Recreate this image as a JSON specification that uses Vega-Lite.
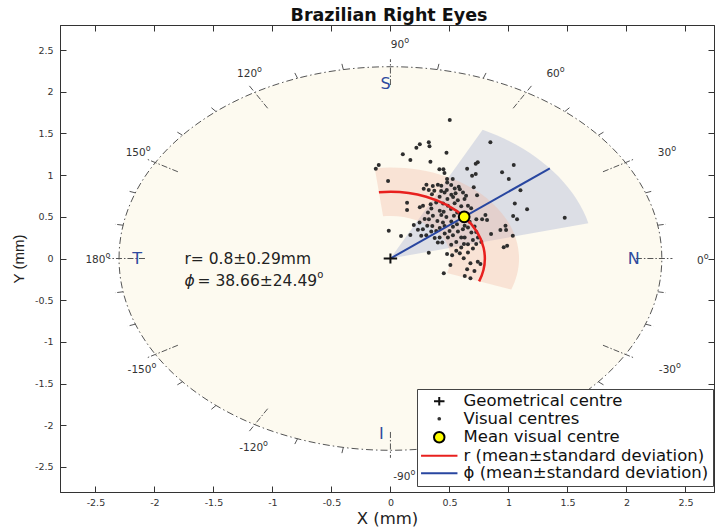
{
  "$schema": "https://vega.github.io/schema/vega-lite/v6.json",
  "width": 654,
  "height": 467,
  "autosize": {"type": "none"},
  "padding": {"left": 60, "top": 25, "right": 1, "bottom": 39},
  "background": "white",
  "title": {"text": "Brazilian Right Eyes", "font": "DejaVu Sans", "fontSize": 17.5, "fontWeight": "bold", "color": "#111111", "baseline": "alphabetic", "offset": -14, "dx": 2},
  "config": {
    "view": {"stroke": "#333333", "strokeWidth": 1},
    "axis": {"grid": false, "labelFont": "DejaVu Sans", "labelFontSize": 9.5, "labelColor": "#333333", "tickColor": "#333333", "domainColor": "#333333", "tickSize": -6, "titleFont": "DejaVu Sans", "titleFontSize": 16.5, "titleFontWeight": "normal", "titleColor": "#222222"}
  },
  "datasets": {
    "dots": [
      {"x":0.503,"y":1.661},{"x":0.847,"y":1.393},{"x":0.325,"y":1.393},{"x":0.249,"y":1.369},{"x":0.331,"y":1.345},{"x":0.220,"y":1.329},{"x":0.105,"y":1.249},{"x":0.475,"y":1.269},{"x":0.169,"y":1.181},{"x":0.339,"y":1.161},
      {"x":-0.099,"y":1.121},{"x":-0.124,"y":1.077},{"x":0.740,"y":1.153},{"x":0.723,"y":1.137},{"x":1.045,"y":1.121},{"x":0.650,"y":1.077},{"x":0.415,"y":1.069},{"x":0.449,"y":1.069},{"x":0.458,"y":1.025},{"x":0.723,"y":1.013},
      {"x":0.692,"y":0.993},{"x":0.946,"y":1.033},{"x":1.003,"y":0.953},{"x":-0.020,"y":0.929},{"x":0.480,"y":0.953},{"x":0.528,"y":0.953},{"x":0.305,"y":0.885},{"x":0.359,"y":0.869},{"x":0.282,"y":0.837},{"x":0.325,"y":0.821},
      {"x":0.706,"y":0.853},{"x":1.102,"y":0.817},{"x":0.734,"y":0.757},{"x":1.054,"y":0.661},{"x":1.158,"y":0.590},{"x":1.477,"y":0.490},{"x":1.040,"y":0.510},{"x":1.073,"y":0.470},{"x":0.805,"y":0.522},{"x":0.777,"y":0.470},
      {"x":0.819,"y":0.462},{"x":0.141,"y":0.669},{"x":0.141,"y":0.582},{"x":0.249,"y":0.614},{"x":0.198,"y":0.402},{"x":-0.014,"y":0.334},{"x":0.090,"y":0.270},{"x":0.169,"y":0.282},{"x":0.975,"y":0.394},{"x":0.932,"y":0.342},
      {"x":0.980,"y":0.342},{"x":0.853,"y":0.294},{"x":1.037,"y":0.274},{"x":0.989,"y":0.154},{"x":0.960,"y":0.134},{"x":0.325,"y":0.070},{"x":0.480,"y":0.054},{"x":0.523,"y":0.038},{"x":0.588,"y":0.062},{"x":0.452,"y":-0.178},
      {"x":0.508,"y":-0.078},{"x":0.630,"y":-0.210},{"x":0.678,"y":-0.238},{"x":0.650,"y":-0.130},{"x":0.712,"y":-0.150},{"x":0.740,"y":-0.038},{"x":0.763,"y":-0.066},{"x":0.678,"y":-0.058},{"x":0.621,"y":0.002},
      {"x":0.402,"y":0.885},{"x":0.431,"y":0.872},{"x":0.481,"y":0.912},{"x":0.515,"y":0.880},{"x":0.579,"y":0.861},{"x":0.588,"y":0.829},{"x":0.545,"y":0.838},{"x":0.478,"y":0.822},{"x":0.430,"y":0.809},{"x":0.372,"y":0.812},
      {"x":0.352,"y":0.771},{"x":0.459,"y":0.792},{"x":0.516,"y":0.764},{"x":0.552,"y":0.781},{"x":0.615,"y":0.790},{"x":0.641,"y":0.752},{"x":0.417,"y":0.741},{"x":0.483,"y":0.714},{"x":0.531,"y":0.738},{"x":0.571,"y":0.699},
      {"x":0.628,"y":0.712},{"x":0.388,"y":0.672},{"x":0.341,"y":0.652},{"x":0.276,"y":0.633},{"x":0.446,"y":0.660},{"x":0.487,"y":0.632},{"x":0.544,"y":0.662},{"x":0.600,"y":0.628},{"x":0.657,"y":0.632},{"x":0.684,"y":0.604},
      {"x":0.347,"y":0.601},{"x":0.418,"y":0.574},{"x":0.451,"y":0.561},{"x":0.513,"y":0.593},{"x":0.566,"y":0.553},{"x":0.318,"y":0.551},{"x":0.360,"y":0.513},{"x":0.431,"y":0.521},{"x":0.474,"y":0.499},{"x":0.538,"y":0.514},
      {"x":0.290,"y":0.474},{"x":0.326,"y":0.471},{"x":0.398,"y":0.451},{"x":0.445,"y":0.433},{"x":0.516,"y":0.445},{"x":0.671,"y":0.441},{"x":0.728,"y":0.470},{"x":0.247,"y":0.431},{"x":0.312,"y":0.394},{"x":0.355,"y":0.391},
      {"x":0.418,"y":0.365},{"x":0.459,"y":0.391},{"x":0.530,"y":0.381},{"x":0.564,"y":0.411},{"x":0.629,"y":0.393},{"x":0.657,"y":0.373},{"x":0.713,"y":0.383},{"x":0.233,"y":0.345},{"x":0.275,"y":0.351},{"x":0.346,"y":0.325},
      {"x":0.388,"y":0.331},{"x":0.460,"y":0.301},{"x":0.501,"y":0.331},{"x":0.572,"y":0.325},{"x":0.614,"y":0.351},{"x":0.686,"y":0.313},{"x":0.727,"y":0.319},{"x":0.261,"y":0.273},{"x":0.304,"y":0.279},{"x":0.375,"y":0.245},
      {"x":0.417,"y":0.251},{"x":0.487,"y":0.253},{"x":0.530,"y":0.279},{"x":0.600,"y":0.253},{"x":0.629,"y":0.251},{"x":0.699,"y":0.221},{"x":0.742,"y":0.251},{"x":0.402,"y":0.193},{"x":0.439,"y":0.191},{"x":0.515,"y":0.165},
      {"x":0.558,"y":0.199},{"x":0.623,"y":0.173},{"x":0.657,"y":0.171},{"x":0.727,"y":0.173},{"x":0.770,"y":0.199},{"x":0.558,"y":0.093},{"x":0.600,"y":0.131},{"x":0.657,"y":0.073},{"x":0.699,"y":0.119}
    ],
    "ticks": [
      {"x":2.08,"y":0,"x2":2.39,"y2":0},{"x":1.801,"y":1.04,"x2":2.07,"y2":1.195},{"x":1.04,"y":1.801,"x2":1.195,"y2":2.07},{"x":0,"y":2.08,"x2":0,"y2":2.39},
      {"x":-1.04,"y":1.801,"x2":-1.195,"y2":2.07},{"x":-1.801,"y":1.04,"x2":-2.07,"y2":1.195},{"x":-2.08,"y":0,"x2":-2.39,"y2":0},{"x":-1.801,"y":-1.04,"x2":-2.07,"y2":-1.195},
      {"x":-1.04,"y":-1.801,"x2":-1.195,"y2":-2.07},{"x":0,"y":-2.08,"x2":0,"y2":-2.39},{"x":1.04,"y":-1.801,"x2":1.195,"y2":-2.07},{"x":1.801,"y":-1.04,"x2":2.07,"y2":-1.195},
      {"x":2.265,"y":0.399,"x2":2.334,"y2":0.411},{"x":2.161,"y":0.787,"x2":2.227,"y2":0.811},{"x":1.762,"y":1.478,"x2":1.815,"y2":1.523},{"x":1.478,"y":1.762,"x2":1.523,"y2":1.815},
      {"x":0.787,"y":2.161,"x2":0.811,"y2":2.227},{"x":0.399,"y":2.265,"x2":0.411,"y2":2.334},{"x":-0.399,"y":2.265,"x2":-0.411,"y2":2.334},{"x":-0.787,"y":2.161,"x2":-0.811,"y2":2.227},
      {"x":-1.478,"y":1.762,"x2":-1.523,"y2":1.815},{"x":-1.762,"y":1.478,"x2":-1.815,"y2":1.523},{"x":-2.161,"y":0.787,"x2":-2.227,"y2":0.811},{"x":-2.265,"y":0.399,"x2":-2.334,"y2":0.411},
      {"x":-2.265,"y":-0.399,"x2":-2.334,"y2":-0.411},{"x":-2.161,"y":-0.787,"x2":-2.227,"y2":-0.811},{"x":-1.762,"y":-1.478,"x2":-1.815,"y2":-1.523},{"x":-1.478,"y":-1.762,"x2":-1.523,"y2":-1.815},
      {"x":-0.787,"y":-2.161,"x2":-0.811,"y2":-2.227},{"x":-0.399,"y":-2.265,"x2":-0.411,"y2":-2.334},{"x":0.399,"y":-2.265,"x2":0.411,"y2":-2.334},{"x":0.787,"y":-2.161,"x2":0.811,"y2":-2.227},
      {"x":1.478,"y":-1.762,"x2":1.523,"y2":-1.815},{"x":1.762,"y":-1.478,"x2":1.815,"y2":-1.523},{"x":2.161,"y":-0.787,"x2":2.227,"y2":-0.811},{"x":2.265,"y":-0.399,"x2":2.334,"y2":-0.411}
    ],
    "angles": [
      {"lab":"90","x":0.117,"y":2.56},{"lab":"60","x":1.435,"y":2.21},{"lab":"30","x":2.379,"y":1.269},{"lab":"0","x":2.655,"y":-0.026},
      {"lab":"-30","x":2.42,"y":-1.337},{"lab":"-90","x":0.17,"y":-2.618},{"lab":"-120","x":-1.079,"y":-2.269},
      {"lab":"-150","x":-2.025,"y":-1.337},{"lab":"180","x":-2.415,"y":-0.018},{"lab":"150","x":-2.074,"y":1.269},{"lab":"120","x":-1.13,"y":2.212}
    ]
  },
  "encoding": {
    "x": {"field": "x", "type": "quantitative", "scale": {"domain": [-2.8, 2.742], "nice": false, "zero": false}, "axis": null},
    "y": {"field": "y", "type": "quantitative", "scale": {"domain": [-2.8, 2.8], "nice": false, "zero": false}, "axis": null}
  },
  "resolve": {"axis": {"x": "independent", "y": "independent"}},
  "layer": [
    {
      "data": {"values": [{"x": 0, "y": 0}]},
      "mark": {"type": "point", "shape": "M-2.3,0A2.3,1.6253 0 1,1 2.3,0A2.3,1.6253 0 1,1 -2.3,0Z", "size": 55696, "filled": true, "fill": "#fdfaf0", "stroke": "#555555", "strokeWidth": 1, "strokeDash": [7, 3, 1.5, 3], "opacity": 1},
      "encoding": {
        "x": {"field": "x", "type": "quantitative", "scale": {"domain": [-2.8, 2.742], "nice": false, "zero": false}, "title": "X (mm)",
              "axis": {"orient": "bottom", "values": [-2.5, -2, -1.5, -1, -0.5, 0, 0.5, 1, 1.5, 2, 2.5], "labelExpr": "'' + datum.value", "labelPadding": 11, "titlePadding": 4}},
        "y": {"field": "y", "type": "quantitative", "scale": {"domain": [-2.8, 2.8], "nice": false, "zero": false}, "title": "Y (mm)",
              "axis": {"orient": "left", "values": [-2.5, -2, -1.5, -1, -0.5, 0, 0.5, 1, 1.5, 2, 2.5], "labelExpr": "'' + datum.value", "labelPadding": 13, "titleFont": "Liberation Sans", "titleFontSize": 15, "titlePadding": 8}}
      }
    },
    {
      "data": {"values": [{"x": 0, "y": 0}]},
      "mark": {"type": "point", "shape": "M0,0L1.6774,-0.2993A1.73,1.2226 0 0,0 0.7814,-1.0908Z", "size": 55696, "filled": true, "fill": "#8a96c8", "fillOpacity": 0.28, "strokeOpacity": 0, "opacity": 1}
    },
    {
      "data": {"values": [{"x": 0, "y": 0}]},
      "mark": {"type": "point", "shape": "M1.0243,0.2635A1.09,0.7703 0 0,0 -0.1329,-0.7645L-0.0622,-0.3577A0.51,0.3604 0 0,1 0.4792,0.1233Z", "size": 55696, "filled": true, "fill": "#f4b49a", "fillOpacity": 0.32, "strokeOpacity": 0, "opacity": 1}
    },
    {
      "data": {"name": "ticks"},
      "mark": {"type": "rule", "stroke": "#555555", "strokeWidth": 1, "strokeDash": [6, 2, 1.5, 2]},
      "encoding": {
        "x": {"field": "x", "type": "quantitative", "scale": {"domain": [-2.8, 2.742], "nice": false, "zero": false}, "title": null,
              "axis": {"orient": "top", "values": [-2.5, -2, -1.5, -1, -0.5, 0, 0.5, 1, 1.5, 2, 2.5], "labels": false}},
        "y": {"field": "y", "type": "quantitative", "scale": {"domain": [-2.8, 2.8], "nice": false, "zero": false}, "title": null,
              "axis": {"orient": "right", "values": [-2.5, -2, -1.5, -1, -0.5, 0, 0.5, 1, 1.5, 2, 2.5], "labels": false}},
        "x2": {"field": "x2"},
        "y2": {"field": "y2"}
      }
    },
    {
      "data": {"name": "dots"},
      "mark": {"type": "point", "shape": "circle", "size": 16, "filled": true, "color": "#2e2e2e", "strokeOpacity": 0, "opacity": 1}
    },
    {
      "data": {"values": [{"x": 0, "y": 0}]},
      "mark": {"type": "point", "shape": "M0.7518,0.1934A0.8,0.5654 0 0,0 -0.0975,-0.5611", "size": 55696, "filled": false, "fill": "transparent", "stroke": "#e8201e", "strokeWidth": 2.5, "opacity": 1}
    },
    {
      "data": {"values": [{"x": 0, "y": 0, "x2": 1.351, "y2": 1.081}]},
      "mark": {"type": "rule", "stroke": "#2846a0", "strokeWidth": 2},
      "encoding": {"x2": {"field": "x2"}, "y2": {"field": "y2"}}
    },
    {
      "data": {"values": [{"x": 0, "y": 0}]},
      "mark": {"type": "point", "shape": "M-1,0H1M0,-0.75V0.75", "size": 180, "filled": false, "stroke": "#111111", "strokeWidth": 2, "opacity": 1}
    },
    {
      "data": {"values": [{"x": 0.625, "y": 0.5}]},
      "mark": {"type": "point", "shape": "circle", "size": 115, "filled": true, "fill": "#ffff00", "stroke": "#000000", "strokeWidth": 2, "opacity": 1}
    },
    {
      "data": {"name": "angles"},
      "mark": {"type": "text", "align": "right", "baseline": "middle", "font": "DejaVu Sans", "fontSize": 10.5, "color": "#333333"},
      "encoding": {"text": {"field": "lab"}}
    },
    {
      "data": {"name": "angles"},
      "mark": {"type": "text", "align": "left", "baseline": "middle", "font": "DejaVu Sans", "fontSize": 8, "dy": -4, "color": "#333333", "text": "o"}
    },
    {
      "data": {"values": [{"lab": "S", "x": -0.042, "y": 2.092}, {"lab": "N", "x": 2.062, "y": -0.01}, {"lab": "T", "x": -2.147, "y": -0.01}, {"lab": "I", "x": -0.076, "y": -2.104}]},
      "mark": {"type": "text", "align": "center", "baseline": "middle", "font": "DejaVu Sans", "fontSize": 16, "color": "#2e4a9e"},
      "encoding": {"text": {"field": "lab"}}
    },
    {
      "data": {"values": [{"t": "r= 0.8±0.29mm", "x": -1.746, "y": -0.01}]},
      "mark": {"type": "text", "align": "left", "baseline": "middle", "font": "DejaVu Sans", "fontSize": 15.5, "color": "#222222"},
      "encoding": {"text": {"field": "t"}}
    },
    {
      "data": {"values": [{"t": "ϕ", "x": -1.746, "y": -0.266}]},
      "mark": {"type": "text", "align": "left", "baseline": "middle", "font": "DejaVu Sans", "fontStyle": "italic", "fontSize": 15.5, "color": "#222222"},
      "encoding": {"text": {"field": "t"}}
    },
    {
      "data": {"values": [{"t": "= 38.66±24.49", "x": -0.621, "y": -0.266}]},
      "mark": {"type": "text", "align": "right", "baseline": "middle", "font": "DejaVu Sans", "fontSize": 15.5, "color": "#222222"},
      "encoding": {"text": {"field": "t"}}
    },
    {
      "data": {"values": [{"t": "o", "x": -0.621, "y": -0.266}]},
      "mark": {"type": "text", "align": "left", "baseline": "middle", "font": "DejaVu Sans", "fontSize": 10, "dy": -6, "color": "#222222"},
      "encoding": {"text": {"field": "t"}}
    },
    {
      "data": {"values": [
        {"x": 0, "y": 0, "item": "Geometrical centre"},
        {"x": 0, "y": 0, "item": "Visual centres"},
        {"x": 0, "y": 0, "item": "Mean visual centre"},
        {"x": 0, "y": 0, "item": "r (mean±standard deviation)"},
        {"x": 0, "y": 0, "item": "ϕ (mean±standard deviation)"}
      ]},
      "mark": {"type": "point", "size": 196, "strokeWidth": 2, "opacity": 0},
      "encoding": {
        "fill": {"field": "item", "type": "nominal",
          "scale": {"domain": ["Geometrical centre", "Visual centres", "Mean visual centre", "r (mean±standard deviation)", "ϕ (mean±standard deviation)"], "range": ["transparent", "#333333", "#ffff00", "transparent", "transparent"]},
          "legend": {"title": null, "orient": "none", "legendX": 357, "legendY": 364, "direction": "vertical", "fillColor": "white", "strokeColor": "#444444", "padding": 4, "labelFont": "DejaVu Sans", "labelFontSize": 16.5, "labelColor": "#111111", "symbolOffset": 10, "labelOffset": 16, "rowPadding": 0.5, "symbolStrokeWidth": 2, "symbolSize": 196, "labelLimit": 400, "symbolOpacity": 1}},
        "stroke": {"field": "item", "type": "nominal",
          "scale": {"domain": ["Geometrical centre", "Visual centres", "Mean visual centre", "r (mean±standard deviation)", "ϕ (mean±standard deviation)"], "range": ["#111111", "#333333", "#000000", "#e8201e", "#2846a0"]},
          "legend": {"title": null, "orient": "none", "legendX": 357, "legendY": 364, "direction": "vertical", "fillColor": "white", "strokeColor": "#444444", "padding": 4, "labelFont": "DejaVu Sans", "labelFontSize": 16.5, "labelColor": "#111111", "symbolOffset": 10, "labelOffset": 16, "rowPadding": 0.5, "symbolStrokeWidth": 2, "symbolSize": 196, "labelLimit": 400, "symbolOpacity": 1}},
        "shape": {"field": "item", "type": "nominal",
          "scale": {"domain": ["Geometrical centre", "Visual centres", "Mean visual centre", "r (mean±standard deviation)", "ϕ (mean±standard deviation)"], "range": ["M-0.75,0H0.75M0,-0.6V0.6", "M-0.12,0A0.12,0.12 0 1,1 0.12,0A0.12,0.12 0 1,1 -0.12,0Z", "M-0.75,0A0.75,0.75 0 1,1 0.75,0A0.75,0.75 0 1,1 -0.75,0Z", "M-2.6,0H2.6", "M-2.6,0H2.6"]},
          "legend": {"title": null, "orient": "none", "legendX": 357, "legendY": 364, "direction": "vertical", "fillColor": "white", "strokeColor": "#444444", "padding": 4, "labelFont": "DejaVu Sans", "labelFontSize": 16.5, "labelColor": "#111111", "symbolOffset": 10, "labelOffset": 16, "rowPadding": 0.5, "symbolStrokeWidth": 2, "symbolSize": 196, "labelLimit": 400, "symbolOpacity": 1}}
      }
    }
  ]
}
